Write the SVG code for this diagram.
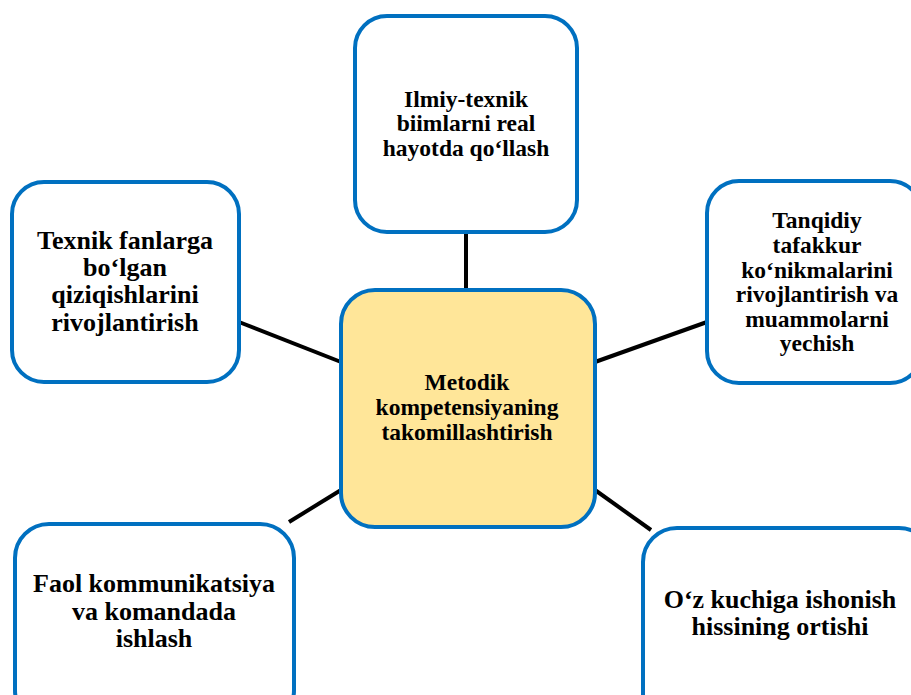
<svg xmlns="http://www.w3.org/2000/svg" width="911" height="695" viewBox="0 0 911 695">
<style>
.box{fill:#ffffff;stroke:#0070C0;stroke-width:4}
.center{fill:#FFE699;stroke:#0070C0;stroke-width:4}
.t{font-family:'Liberation Serif','Times New Roman',serif;font-weight:bold;font-size:23.5px;fill:#000;text-anchor:middle}
.L{font-size:26px}
.c{stroke:#000;stroke-width:4;fill:none}
</style>
<rect width="911" height="695" fill="#ffffff"/>
<g id="connectors">
<line class="c" x1="466" y1="232" x2="466" y2="290"/>
<line class="c" x1="239" y1="322" x2="341" y2="362"/>
<line class="c" x1="595" y1="362" x2="707" y2="322"/>
<line class="c" x1="289" y1="522" x2="341" y2="490"/>
<line class="c" x1="595" y1="490" x2="651" y2="530"/>
</g>
<g id="node-top">
<rect class="box" x="355" y="16" width="222" height="216" rx="32"/>
<text class="t" x="466" y="107">Ilmiy-texnik</text>
<text class="t" x="466" y="131">biimlarni real</text>
<text class="t" x="466" y="156">hayotda qo‘llash</text>
</g>
<g id="node-left">
<rect class="box" x="12" y="182" width="227" height="200" rx="32"/>
<text class="t L" x="125" y="249">Texnik fanlarga</text>
<text class="t L" x="125" y="276">bo‘lgan</text>
<text class="t L" x="125" y="303">qiziqishlarini</text>
<text class="t L" x="125" y="331">rivojlantirish</text>
</g>
<g id="node-right">
<rect class="box" x="707" y="181" width="215" height="202" rx="32"/>
<text class="t" x="817" y="228">Tanqidiy</text>
<text class="t" x="817" y="253">tafakkur</text>
<text class="t" x="817" y="278">ko‘nikmalarini</text>
<text class="t" x="817" y="302">rivojlantirish va</text>
<text class="t" x="817" y="327">muammolarni</text>
<text class="t" x="817" y="351">yechish</text>
</g>
<g id="node-center">
<rect class="center" x="341" y="290" width="254" height="237" rx="34"/>
<text class="t" x="467" y="390">Metodik</text>
<text class="t" x="467" y="415">kompetensiyaning</text>
<text class="t" x="467" y="440">takomillashtirish</text>
</g>
<g id="node-bottom-left">
<rect class="box" x="15" y="524" width="279" height="200" rx="34"/>
<text class="t L" x="154" y="592">Faol kommunikatsiya</text>
<text class="t L" x="154" y="620">va komandada</text>
<text class="t L" x="154" y="647">ishlash</text>
</g>
<g id="node-bottom-right">
<rect class="box" x="643" y="528" width="290" height="200" rx="34"/>
<text class="t L" x="780" y="608">O‘z kuchiga ishonish</text>
<text class="t L" x="780" y="635">hissining ortishi</text>
</g>
</svg>
